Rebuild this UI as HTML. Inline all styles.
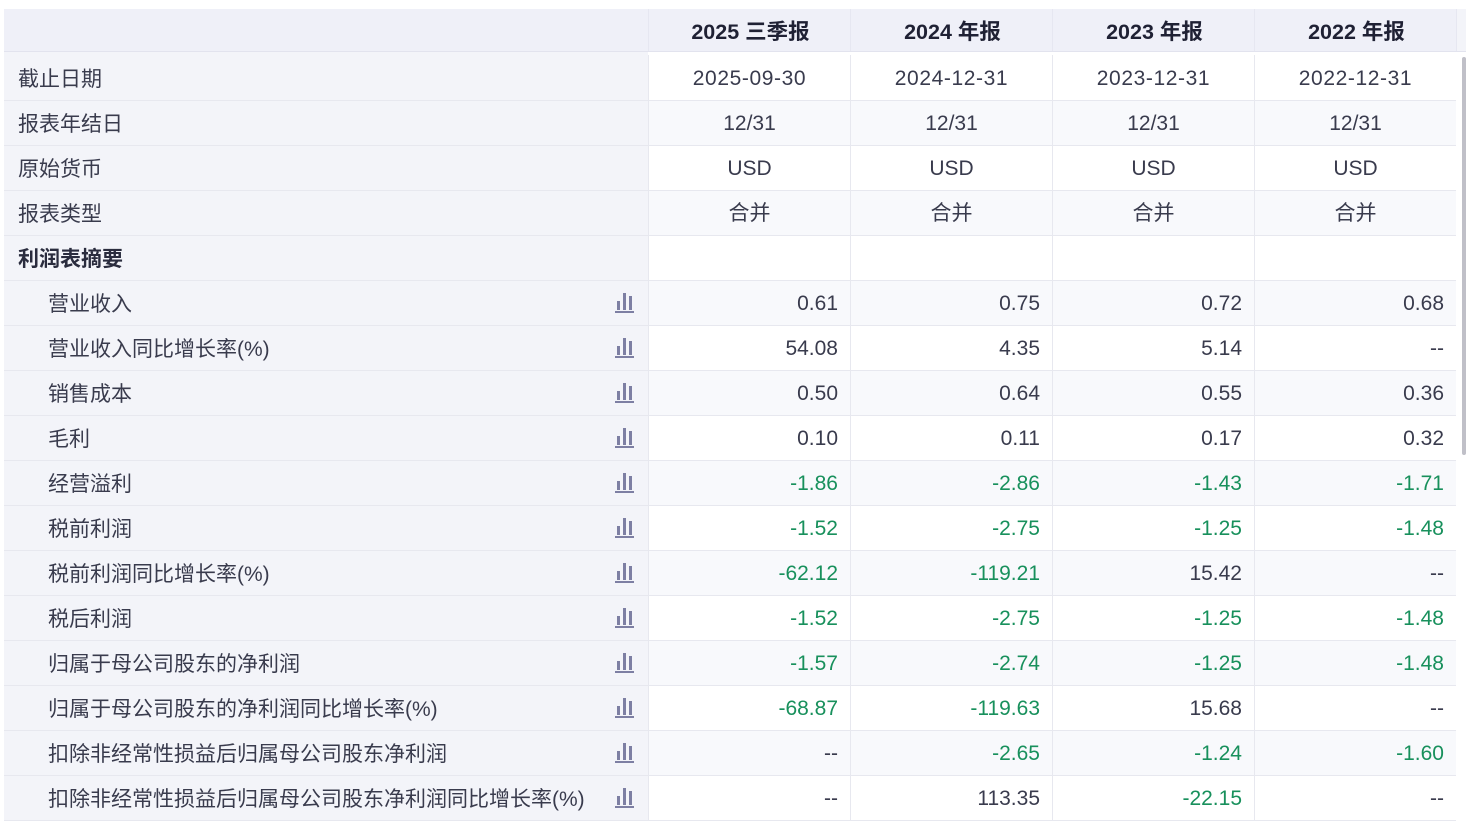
<!DOCTYPE html>
<html>
<head>
<meta charset="utf-8">
<style>
  html,body{margin:0;padding:0;background:#fff;}
  body{width:1466px;height:822px;overflow:hidden;position:relative;
    font-family:"Liberation Sans","Noto Sans CJK SC",sans-serif;color:#393b4d;}
  .wrap{position:absolute;left:4px;top:9px;width:1462px;}
  .hdr{display:flex;height:43px;box-sizing:border-box;background:#eff0f8;border-bottom:1px solid #e2e3ee;}
  .hdr .lab{width:644px;background:#eff0f8;padding:0;}
  .hdr .c{width:202px;box-sizing:border-box;border-left:1px solid #e6e7f1;text-align:center;
    font-weight:bold;font-size:21.5px;line-height:44px;color:#1f2134;padding-left:2px;padding-right:0;background:#eff0f8;}
  .hdr .tail{flex:1;border-left:1px solid #e6e7f1;background:#f3f4f9;}
  .row{display:flex;height:45px;box-sizing:border-box;border-bottom:1px solid #e7e8ef;width:1452px;}
  .row.first{height:49px;}
  .lab{width:644px;box-sizing:border-box;background:#f3f4f9;padding-left:14px;font-size:21px;
    line-height:44px;padding-top:2px;position:relative;white-space:nowrap;}
  .row.first .lab{line-height:52px;}
  .lab.ind{padding-left:44px;}
  .lab.b{font-weight:bold;color:#2a2c3e;}
  .c{width:202px;box-sizing:border-box;border-left:1px solid #e7e8ef;font-size:21px;line-height:44px;padding-top:1px;
    text-align:right;padding-right:12px;white-space:nowrap;background:#fff;}
  .row.first .c{margin-top:3px;line-height:46px;}
  .row.alt .c{background:#f8f9fc;}
  .c.ctr{text-align:center;padding-right:0;}
  .c.dt{letter-spacing:0.6px;}
  .g{color:#18905c;}
  .ico{position:absolute;left:611px;top:10px;width:19px;height:22px;}
  .ico i{position:absolute;bottom:3px;width:3px;background:#7d7fa3;}
  .ico i.a{left:2px;height:9px;}
  .ico i.b2{left:8px;height:17px;}
  .ico i.c3{left:14px;height:14px;}
  .ico i.base{left:0;bottom:0;width:19px;height:2px;}
  .sb{position:absolute;left:1462px;top:57px;width:4px;height:398px;background:#c0c0c8;border-radius:2px;}
</style>
</head>
<body>
<div class="wrap">
  <div class="hdr">
    <div class="lab"></div>
    <div class="c">2025 三季报</div>
    <div class="c">2024 年报</div>
    <div class="c">2023 年报</div>
    <div class="c">2022 年报</div>
    <div class="tail"></div>
  </div>

  <div class="row first">
    <div class="lab">截止日期</div>
    <div class="c ctr dt">2025-09-30</div><div class="c ctr dt">2024-12-31</div><div class="c ctr dt">2023-12-31</div><div class="c ctr dt">2022-12-31</div>
  </div>
  <div class="row alt">
    <div class="lab">报表年结日</div>
    <div class="c ctr">12/31</div><div class="c ctr">12/31</div><div class="c ctr">12/31</div><div class="c ctr">12/31</div>
  </div>
  <div class="row">
    <div class="lab">原始货币</div>
    <div class="c ctr">USD</div><div class="c ctr">USD</div><div class="c ctr">USD</div><div class="c ctr">USD</div>
  </div>
  <div class="row alt">
    <div class="lab">报表类型</div>
    <div class="c ctr">合并</div><div class="c ctr">合并</div><div class="c ctr">合并</div><div class="c ctr">合并</div>
  </div>
  <div class="row">
    <div class="lab b">利润表摘要</div>
    <div class="c"></div><div class="c"></div><div class="c"></div><div class="c"></div>
  </div>
  <div class="row alt">
    <div class="lab ind">营业收入<span class="ico"><i class="a"></i><i class="b2"></i><i class="c3"></i><i class="base"></i></span></div>
    <div class="c">0.61</div><div class="c">0.75</div><div class="c">0.72</div><div class="c">0.68</div>
  </div>
  <div class="row">
    <div class="lab ind">营业收入同比增长率(%)<span class="ico"><i class="a"></i><i class="b2"></i><i class="c3"></i><i class="base"></i></span></div>
    <div class="c">54.08</div><div class="c">4.35</div><div class="c">5.14</div><div class="c">--</div>
  </div>
  <div class="row alt">
    <div class="lab ind">销售成本<span class="ico"><i class="a"></i><i class="b2"></i><i class="c3"></i><i class="base"></i></span></div>
    <div class="c">0.50</div><div class="c">0.64</div><div class="c">0.55</div><div class="c">0.36</div>
  </div>
  <div class="row">
    <div class="lab ind">毛利<span class="ico"><i class="a"></i><i class="b2"></i><i class="c3"></i><i class="base"></i></span></div>
    <div class="c">0.10</div><div class="c">0.11</div><div class="c">0.17</div><div class="c">0.32</div>
  </div>
  <div class="row alt">
    <div class="lab ind">经营溢利<span class="ico"><i class="a"></i><i class="b2"></i><i class="c3"></i><i class="base"></i></span></div>
    <div class="c g">-1.86</div><div class="c g">-2.86</div><div class="c g">-1.43</div><div class="c g">-1.71</div>
  </div>
  <div class="row">
    <div class="lab ind">税前利润<span class="ico"><i class="a"></i><i class="b2"></i><i class="c3"></i><i class="base"></i></span></div>
    <div class="c g">-1.52</div><div class="c g">-2.75</div><div class="c g">-1.25</div><div class="c g">-1.48</div>
  </div>
  <div class="row alt">
    <div class="lab ind">税前利润同比增长率(%)<span class="ico"><i class="a"></i><i class="b2"></i><i class="c3"></i><i class="base"></i></span></div>
    <div class="c g">-62.12</div><div class="c g">-119.21</div><div class="c">15.42</div><div class="c">--</div>
  </div>
  <div class="row">
    <div class="lab ind">税后利润<span class="ico"><i class="a"></i><i class="b2"></i><i class="c3"></i><i class="base"></i></span></div>
    <div class="c g">-1.52</div><div class="c g">-2.75</div><div class="c g">-1.25</div><div class="c g">-1.48</div>
  </div>
  <div class="row alt">
    <div class="lab ind">归属于母公司股东的净利润<span class="ico"><i class="a"></i><i class="b2"></i><i class="c3"></i><i class="base"></i></span></div>
    <div class="c g">-1.57</div><div class="c g">-2.74</div><div class="c g">-1.25</div><div class="c g">-1.48</div>
  </div>
  <div class="row">
    <div class="lab ind">归属于母公司股东的净利润同比增长率(%)<span class="ico"><i class="a"></i><i class="b2"></i><i class="c3"></i><i class="base"></i></span></div>
    <div class="c g">-68.87</div><div class="c g">-119.63</div><div class="c">15.68</div><div class="c">--</div>
  </div>
  <div class="row alt">
    <div class="lab ind">扣除非经常性损益后归属母公司股东净利润<span class="ico"><i class="a"></i><i class="b2"></i><i class="c3"></i><i class="base"></i></span></div>
    <div class="c">--</div><div class="c g">-2.65</div><div class="c g">-1.24</div><div class="c g">-1.60</div>
  </div>
  <div class="row">
    <div class="lab ind">扣除非经常性损益后归属母公司股东净利润同比增长率(%)<span class="ico"><i class="a"></i><i class="b2"></i><i class="c3"></i><i class="base"></i></span></div>
    <div class="c">--</div><div class="c">113.35</div><div class="c g">-22.15</div><div class="c">--</div>
  </div>
</div>
<div class="sb"></div>
</body>
</html>
